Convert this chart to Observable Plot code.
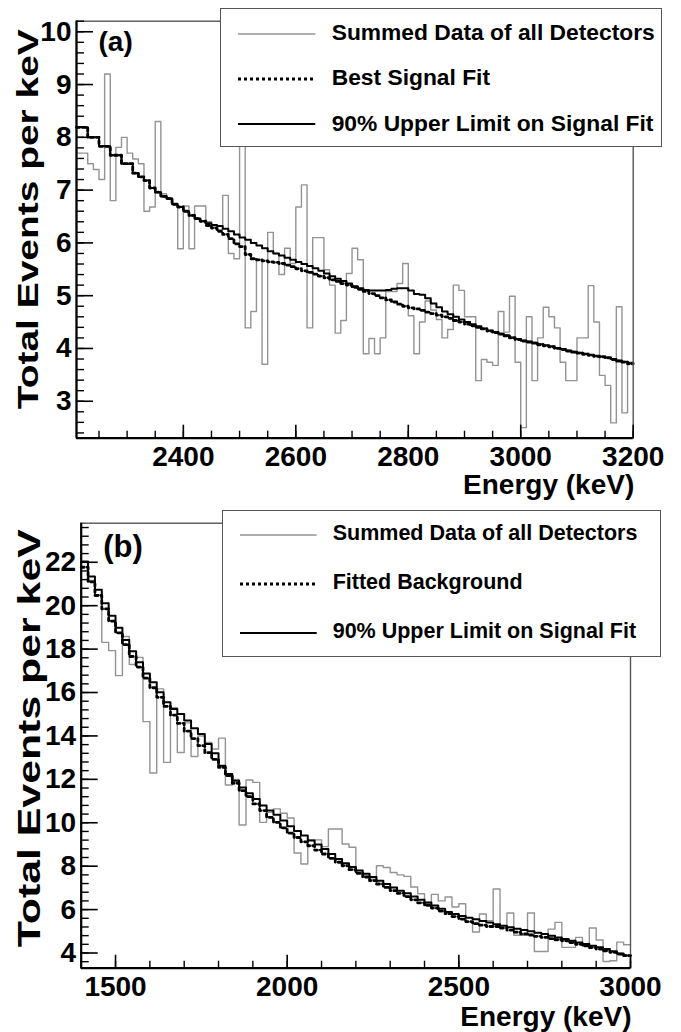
<!DOCTYPE html>
<html><head><meta charset="utf-8">
<script src="https://cdn.jsdelivr.net/npm/d3@7"></script>
<script src="https://cdn.jsdelivr.net/npm/@observablehq/plot@0.6"></script>
<style>
body{margin:0;background:#fff;}
#wrap{position:relative;width:681px;height:1032px;overflow:hidden;font-family:"Liberation Sans",Arial,sans-serif;font-weight:bold;}
.panel{position:absolute;left:0;}
.legend{position:absolute;background:#fff;border:1.3px solid #555;box-sizing:border-box;}
.legend .lab{position:absolute;white-space:nowrap;color:#000;line-height:1;}
.legend svg{position:absolute;overflow:visible;}
</style></head><body><div id="wrap"></div>
<script>
// ---------- Panel (a) ----------
const aStart = 2210, aBin = 10;
const aXDomain = [2210, 3200], aYDomain = [2.3, 10.2];
const aXTicks = [2400, 2600, 2800, 3000, 3200];
const aYTicks = [3, 4, 5, 6, 7, 8, 9, 10];
const aData = [7.70,7.70,7.50,7.39,7.20,9.20,6.80,7.81,8.00,7.70,
 7.59,7.50,6.60,6.68,8.30,6.93,6.85,6.75,5.89,6.70,
 5.89,6.70,6.70,6.40,6.30,6.25,6.90,5.80,5.70,8.10,
 4.39,4.70,5.68,3.70,6.20,5.80,5.40,5.90,5.61,6.68,
 7.10,4.39,6.10,6.10,5.49,5.20,4.29,4.53,5.42,5.90,
 5.68,3.90,4.19,3.90,4.20,5.08,5.08,5.23,5.61,4.62,
 3.90,4.50,4.90,4.73,4.55,4.20,4.36,5.20,5.10,4.60,
 4.60,3.39,3.79,3.74,3.68,4.70,4.31,4.99,3.74,2.50,
 4.60,3.39,4.20,4.78,4.60,4.39,3.74,3.39,3.39,4.20,
 4.20,5.19,4.50,3.49,3.30,2.59,4.79,2.78,3.74];
const aUpper = [8.19,8.19,8.00,8.00,7.83,7.83,7.66,7.66,7.50,7.50,
 7.32,7.25,7.18,7.04,6.96,6.88,6.84,6.73,6.68,6.60,
 6.52,6.46,6.41,6.37,6.34,6.32,6.27,6.22,6.16,6.10,
 6.06,6.00,5.95,5.90,5.84,5.80,5.76,5.72,5.68,5.64,
 5.60,5.56,5.52,5.47,5.42,5.37,5.32,5.28,5.23,5.18,
 5.14,5.11,5.10,5.10,5.10,5.11,5.13,5.14,5.14,5.10,
 5.03,5.02,4.95,4.85,4.78,4.70,4.65,4.60,4.55,4.50,
 4.46,4.42,4.38,4.34,4.31,4.28,4.25,4.21,4.18,4.15,
 4.13,4.11,4.08,4.06,4.04,4.01,3.99,3.96,3.94,3.92,
 3.90,3.88,3.86,3.85,3.83,3.80,3.77,3.75,3.72];
const aBest = [8.19,8.19,8.00,8.00,7.83,7.83,7.66,7.66,7.50,7.50,
 7.32,7.25,7.18,7.04,6.96,6.88,6.84,6.73,6.68,6.60,
 6.52,6.46,6.41,6.33,6.28,6.22,6.16,6.08,5.98,5.93,
 5.78,5.70,5.68,5.66,5.64,5.63,5.61,5.58,5.55,5.51,
 5.47,5.44,5.41,5.37,5.34,5.30,5.27,5.23,5.20,5.16,
 5.12,5.08,5.04,5.00,4.96,4.92,4.88,4.84,4.80,4.77,
 4.75,4.72,4.69,4.66,4.63,4.60,4.57,4.53,4.50,4.46,
 4.43,4.40,4.37,4.33,4.30,4.27,4.24,4.20,4.17,4.14,
 4.12,4.10,4.07,4.05,4.03,4.00,3.98,3.95,3.93,3.91,
 3.89,3.87,3.85,3.84,3.82,3.79,3.76,3.74,3.71];
const aLegend = ["Summed Data of all Detectors", "Best Signal Fit", "90% Upper Limit on Signal Fit"];

// ---------- Panel (b) ----------
const bStart = 1400, bBin = 20;
const bXDomain = [1400, 3000], bYDomain = [3.3, 23.8];
const bXTicks = [1500, 2000, 2500, 3000];
const bYTicks = [4, 6, 8, 10, 12, 14, 16, 18, 20, 22];
const bData = [22.0,21.16,20.5,18.31,17.93,16.78,18.58,17.29,17.62,14.66,
 12.29,16.17,12.78,15.3,13.24,14.6,13.05,14.0,13.7,13.4,
 13.9,11.74,12.0,9.90,11.97,11.86,10.02,10.48,10.64,10.44,
 10.22,8.61,8.10,9.21,9.21,8.9,9.71,9.71,9.02,8.87,
 7.71,7.56,7.4,8.02,7.94,7.71,7.6,7.53,7.04,6.73,
 6.27,6.70,6.4,6.58,6.12,6.27,5.43,4.97,5.80,5.49,
 6.95,5.26,5.84,4.82,4.82,5.84,4.07,4.07,5.10,5.41,
 4.26,4.26,4.72,4.33,5.15,4.6,3.61,3.64,4.50,4.38];
const bUpper = [22.03,21.34,20.73,20.11,19.54,18.98,18.42,17.90,17.39,16.88,
 16.47,16.01,15.55,15.24,15.01,14.71,14.35,14.09,13.63,13.20,
 12.63,12.25,11.94,11.63,11.36,11.10,10.79,10.56,10.37,10.10,
 9.84,9.62,9.41,9.18,9.00,8.79,8.56,8.33,8.13,7.96,
 7.80,7.65,7.50,7.33,7.18,7.02,6.87,6.75,6.60,6.45,
 6.33,6.19,6.04,5.89,5.80,5.70,5.62,5.55,5.48,5.40,
 5.33,5.26,5.19,5.12,5.06,5.00,4.93,4.87,4.79,4.72,
 4.64,4.56,4.48,4.41,4.33,4.26,4.18,4.08,3.98,3.88];
const bBackground = [21.77,21.10,20.47,19.85,19.29,18.75,18.21,17.66,17.17,16.66,
 16.22,15.78,15.36,14.96,14.58,14.22,13.88,13.55,13.23,12.92,
 12.55,12.17,11.82,11.48,11.20,10.87,10.56,10.25,10.02,9.76,
 9.52,9.32,9.12,8.94,8.74,8.56,8.36,8.18,8.02,7.84,
 7.67,7.50,7.33,7.18,7.02,6.87,6.75,6.60,6.45,6.31,
 6.19,6.07,5.93,5.81,5.68,5.56,5.45,5.35,5.28,5.22,
 5.22,5.15,5.05,4.96,4.88,4.83,4.77,4.72,4.66,4.61,
 4.56,4.48,4.40,4.33,4.25,4.18,4.10,4.03,3.95,3.88];
const bLegend = ["Summed Data of all Detectors", "Fitted Background", "90% Upper Limit on Signal Fit"];

const yTitle = "Total Events per keV";
const xTitle = "Energy (keV)";

function steps(values, start, w) {
  const rows = values.map((v, i) => ({x: start + i * w, y: v}));
  rows.push({x: start + values.length * w, y: values[values.length - 1]});
  return rows;
}

const FONT = "Liberation Sans, Arial, Helvetica, sans-serif";

function panel(c) {
  const W = 681;
  const fw = W - c.ml - c.mr, fh = c.h - c.mt - c.mb;
  const yMinor = d3.range(Math.ceil(c.yd[0] / c.yMinorStep) * c.yMinorStep, c.yd[1] + 1e-9, c.yMinorStep);
  const xMinor = d3.range(Math.ceil(c.xd[0] / c.xMinorStep) * c.xMinorStep, c.xd[1] + 1e-9, c.xMinorStep);
  const svg = Plot.plot({
    width: W, height: c.h,
    marginLeft: c.ml, marginRight: c.mr, marginTop: c.mt, marginBottom: c.mb,
    style: {fontFamily: FONT, fontWeight: "bold", background: "white", overflow: "visible", color: "#000"},
    x: {domain: c.xd}, y: {domain: c.yd},
    marks: [
      Plot.line(steps(c.data, c.start, c.bin), {x: "x", y: "y", curve: "step-after", stroke: "#939393", strokeWidth: 1.4}),
      Plot.line(steps(c.dotted, c.start, c.bin), {x: "x", y: "y", curve: "step-after", stroke: "#000", strokeWidth: 2.8, strokeDasharray: "3,3"}),
      Plot.line(steps(c.solid, c.start, c.bin), {x: "x", y: "y", curve: "step-after", stroke: "#000", strokeWidth: 2}),
      Plot.frame({stroke: "#555", strokeWidth: 1.4}),
      Plot.ruleX([c.xd[0]], {stroke: "#000", strokeWidth: 2.2}),
      Plot.ruleY([c.yd[0]], {stroke: "#000", strokeWidth: 2.2}),
      Plot.tickY(yMinor, {y: d => d, insetRight: fw - 8, stroke: "#000", strokeWidth: 1.4}),
      Plot.tickY(c.yTicks, {y: d => d, insetRight: fw - 17, stroke: "#000", strokeWidth: 1.6}),
      Plot.tickX(xMinor, {x: d => d, insetTop: fh - 7, stroke: "#000", strokeWidth: 1.4}),
      Plot.tickX(c.xTicks, {x: d => d, insetTop: fh - 13, stroke: "#000", strokeWidth: 1.6}),
      Plot.axisY({ticks: c.yTicks, tickSize: 0, tickPadding: 5, fontSize: 28, fontWeight: "bold", tickFormat: d => String(d), label: null}),
      Plot.axisX({ticks: c.xTicks, tickSize: 0, tickPadding: 8, fontSize: 28, fontWeight: "bold", tickFormat: d => String(d), label: null}),
      Plot.text([yTitle], {frameAnchor: "top-left", dx: c.ytDx, dy: c.ytDy, rotate: -90, textAnchor: "end", lineAnchor: "middle", fontSize: c.ytSize, fontWeight: "bold", fill: "#000"}),
      Plot.text([xTitle], {frameAnchor: "bottom-right", dx: 1, dy: c.xtDy, textAnchor: "end", lineAnchor: "middle", fontSize: 28, fontWeight: "bold", fill: "#000"}),
      Plot.text([c.tag], {frameAnchor: "top-left", dx: c.tagDx, dy: c.tagDy, textAnchor: "start", lineAnchor: "middle", fontSize: c.tagSize, fontWeight: "bold", fill: "#000"})
    ]
  });
  // stretch the vertical title along its length, as in the original figure
  d3.select(svg).selectAll("text").filter(function () { return this.textContent === yTitle; })
    .attr("textLength", c.ytLen).attr("lengthAdjust", "spacingAndGlyphs");
  return svg;
}

function legend(parent, labels, box) {
  const L = document.createElement("div");
  L.className = "legend";
  Object.assign(L.style, {left: box.x + "px", top: box.y + "px", width: box.w + "px", height: box.h + "px"});
  const styles = [
    {stroke: "#939393", w: 1.4, dash: null},
    {stroke: "#000", w: 2.8, dash: "3,3"},
    {stroke: "#000", w: 2, dash: null}
  ];
  labels.forEach((t, i) => {
    const cy = box.rows[i] - box.y;
    const s = d3.create("svg").attr("width", box.sw).attr("height", 4)
      .style("left", (box.sx - box.x) + "px").style("top", (cy - 2) + "px");
    s.append("line").attr("x1", 0).attr("x2", box.sw).attr("y1", 2).attr("y2", 2)
      .attr("stroke", styles[i].stroke).attr("stroke-width", styles[i].w)
      .attr("stroke-dasharray", styles[i].dash);
    L.appendChild(s.node());
    const lab = document.createElement("div");
    lab.className = "lab";
    lab.textContent = t;
    Object.assign(lab.style, {left: (box.tx - box.x) + "px", top: (cy - box.fs * 0.55) + "px", fontSize: box.fs + "px"});
    L.appendChild(lab);
  });
  parent.appendChild(L);
}

const wrap = document.getElementById("wrap");

const pa = panel({
  h: 500, ml: 76, mr: 48.3, mt: 20.7, mb: 62.3,
  xd: aXDomain, yd: aYDomain, xTicks: aXTicks, yTicks: aYTicks, xMinorStep: 50, yMinorStep: 0.2,
  data: aData, dotted: aBest, solid: aUpper, start: aStart, bin: aBin,
  ytDx: -48, ytDy: 8, ytSize: 30, ytLen: 380, xtDy: 47, tag: "(a)", tagDx: 22, tagDy: 21, tagSize: 28
});
pa.classList.add("panel"); pa.style.top = "0px";
wrap.appendChild(pa);

const pb = panel({
  h: 532, ml: 80.7, mr: 51, mt: 22.7, mb: 64.3,
  xd: bXDomain, yd: bYDomain, xTicks: bXTicks, yTicks: bYTicks, xMinorStep: 100, yMinorStep: 0.4,
  data: bData, dotted: bBackground, solid: bUpper, start: bStart, bin: bBin,
  ytDx: -51.5, ytDy: 6, ytSize: 31, ytLen: 418, xtDy: 49, tag: "(b)", tagDx: 22, tagDy: 24, tagSize: 31
});
pb.classList.add("panel"); pb.style.top = "500px";
wrap.appendChild(pb);

legend(wrap, aLegend, {x: 220, y: 8, w: 442, h: 139, rows: [32.7, 77.7, 123.3], sx: 236.7, sw: 77.3, tx: 330.7, fs: 22.8});
legend(wrap, bLegend, {x: 222.3, y: 510, w: 439, h: 147, rows: [534, 582.7, 632.3], sx: 239, sw: 76.7, tx: 331.7, fs: 21.5});
</script></body></html>
